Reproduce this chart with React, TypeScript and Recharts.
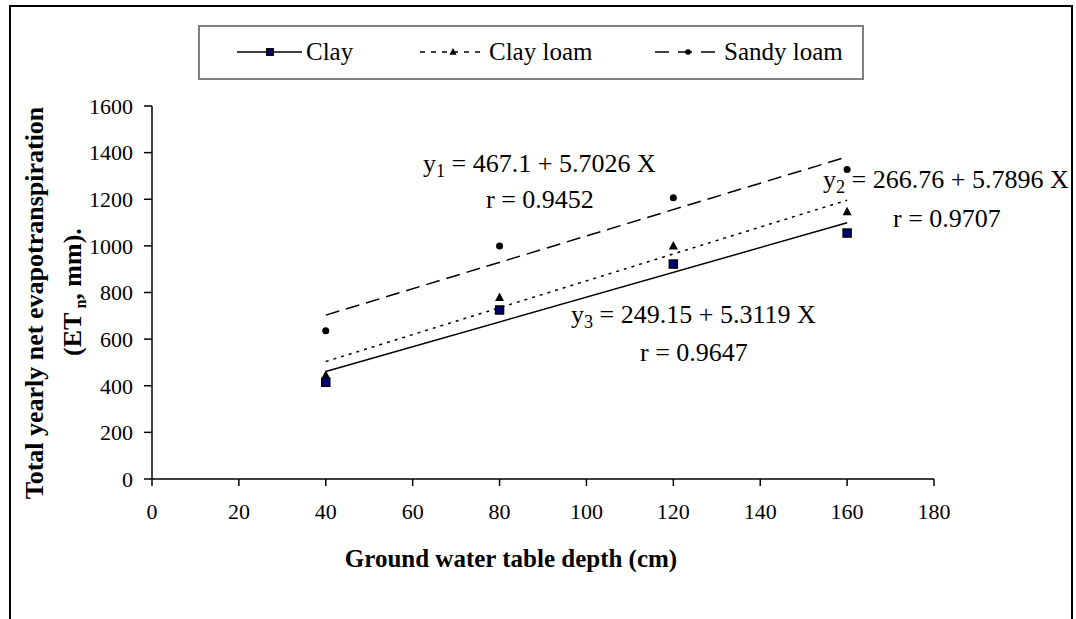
import {
  ComposedChart,
  Line,
  Scatter,
  XAxis,
  YAxis,
} from "recharts";

const depths = [40, 80, 120, 160];
const clay = [415, 725, 922, 1055];
const clayLoam = [445, 779, 1000, 1146];
const sandyLoam = [636, 1000, 1206, 1328];

// fitted lines, end points as drawn
const trendDepths = [40, 160];
const clayTrend = [461, 1099];
const clayLoamTrend = [504, 1196];
const sandyLoamTrend = [703, 1382];

const xTicks = [0, 20, 40, 60, 80, 100, 120, 140, 160, 180];
const yTicks = [0, 200, 400, 600, 800, 1000, 1200, 1400, 1600];

const SERIF = "Liberation Serif, Times New Roman, serif";

type Shape = "square" | "triangle" | "circle";

function Marker({ cx, cy, kind, s = 1 }: { cx: number; cy: number; kind: Shape; s?: number }) {
  if (kind === "square")
    return <rect x={cx - 4 * s} y={cy - 4 * s} width={8 * s} height={8 * s} fill="#000080" stroke="#000" strokeWidth={1.5} />;
  if (kind === "triangle")
    return <polygon points={`${cx},${cy - 5 * s} ${cx - 4.5 * s},${cy + 3.5 * s} ${cx + 4.5 * s},${cy + 3.5 * s}`} fill="#000" />;
  return <circle cx={cx} cy={cy} r={3.5 * s} fill="#000" />;
}

const series = [
  { name: "Clay", values: clay, trend: clayTrend, shape: "square" as Shape, dash: undefined, legendDash: undefined },
  { name: "Clay loam", values: clayLoam, trend: clayLoamTrend, shape: "triangle" as Shape, dash: "3 5", legendDash: "5 6" },
  { name: "Sandy loam", values: sandyLoam, trend: sandyLoamTrend, shape: "circle" as Shape, dash: "14 7", legendDash: "14 9" },
];

const legendX = [237, 420, 655];

function LegendBox() {
  return (
    <div
      style={{
        position: "absolute",
        left: 198,
        top: 25,
        width: 662,
        height: 51,
        border: "2px solid #808080",
        background: "#fff",
      }}
    >
      <svg width={662} height={51} style={{ position: "absolute", left: 0, top: 0 }}>
        {series.map((s, i) => {
          const x0 = legendX[i] - 200;
          return (
            <g key={s.name}>
              <line x1={x0} x2={x0 + 65} y1={25} y2={25} stroke="#000" strokeWidth={1.5} strokeDasharray={s.legendDash} />
              <Marker cx={x0 + 33} cy={25} kind={s.shape} s={0.8} />
              <text x={x0 + 69} y={33} style={{ fontFamily: SERIF }} fontSize={25} fill="#000">
                {s.name}
              </text>
            </g>
          );
        })}
      </svg>
    </div>
  );
}

function Sub({ children }: { children: string }) {
  return (
    <tspan fontSize="0.7em" dy={5}>
      {children}
    </tspan>
  );
}

function Equations() {
  const t = { style: { fontFamily: SERIF }, fontSize: 26, fill: "#000" };
  return (
    <svg width={1076} height={619} style={{ position: "absolute", left: 0, top: 0, pointerEvents: "none" }}>
      <text x={423} y={172} {...t}>
        y<Sub>1</Sub>
        <tspan dy={-5}> = 467.1 + 5.7026 X</tspan>
      </text>
      <text x={486} y={208} {...t}>r = 0.9452</text>
      <text x={823} y={188} {...t}>
        y<Sub>2</Sub>
        <tspan dy={-5}> = 266.76 + 5.7896 X</tspan>
      </text>
      <text x={893} y={227} {...t}>r = 0.9707</text>
      <text x={571} y={323} {...t}>
        y<Sub>3</Sub>
        <tspan dy={-5}> = 249.15 + 5.3119 X</tspan>
      </text>
      <text x={640} y={361} {...t}>r = 0.9647</text>
    </svg>
  );
}

function YTitle() {
  return (
    <g style={{ fontFamily: SERIF }} fontWeight="bold" fontSize={26} fill="#000">
      <text x={43} y={303} textAnchor="middle" transform="rotate(-90 43 303)">
        Total yearly net evapotranspiration
      </text>
      <text x={81} y={292} textAnchor="middle" transform="rotate(-90 81 292)">
        (ET
        <tspan fontSize={16} dx={4} dy={5}>n</tspan>
        <tspan dy={-5}>, mm).</tspan>
      </text>
    </g>
  );
}

function XTitle() {
  return (
    <text x={511} y={567} textAnchor="middle" style={{ fontFamily: SERIF }} fontWeight="bold" fontSize={25} fill="#000">
      Ground water table depth (cm)
    </text>
  );
}

export default function App() {
  const pointData = series.map((s) => s.values.map((v, i) => ({ x: depths[i], y: v })));
  const trendData = series.map((s) => s.trend.map((v, i) => ({ x: trendDepths[i], y: v })));
  const tickStyle = { fontSize: 22, fill: "#000", style: { fontFamily: SERIF } };

  return (
    <div style={{ position: "absolute", left: 0, top: 0, width: 1076, height: 619, overflow: "hidden", background: "#fff", fontFamily: SERIF }}>
      <div
        style={{
          position: "absolute",
          left: 9,
          top: 5,
          width: 1060,
          height: 700,
          border: "2px solid #000",
        }}
      />
      <div style={{ position: "absolute", left: 0, top: 0 }}>
        <ComposedChart width={1076} height={619} margin={{ top: 106, right: 142, bottom: 110, left: 92 }}>
          <XAxis
            type="number"
            dataKey="x"
            domain={[0, 180]}
            ticks={xTicks}
            interval={0}
            height={30}
            stroke="#000"
            strokeWidth={1.5}
            tickSize={7}
            tickMargin={17}
            tick={tickStyle}
            label={{ content: () => <XTitle /> }}
          />
          <YAxis
            type="number"
            domain={[0, 1600]}
            ticks={yTicks}
            interval={0}
            width={60}
            stroke="#000"
            strokeWidth={1.5}
            tickSize={8}
            tickMargin={11}
            tick={tickStyle}
            label={{ content: () => <YTitle /> }}
          />
          {series.map((s, i) => (
            <Line
              key={`t-${s.name}`}
              data={trendData[i]}
              dataKey="y"
              stroke="#000"
              strokeWidth={1.5}
              strokeDasharray={s.dash}
              dot={false}
              activeDot={false}
              isAnimationActive={false}
              legendType="none"
            />
          ))}
          {series.map((s, i) => (
            <Scatter
              key={`p-${s.name}`}
              name={s.name}
              data={pointData[i]}
              dataKey="y"
              isAnimationActive={false}
              shape={(p: any) => <Marker cx={p.cx} cy={p.cy} kind={s.shape} />}
            />
          ))}
        </ComposedChart>
      </div>
      <Equations />
      <LegendBox />
    </div>
  );
}
